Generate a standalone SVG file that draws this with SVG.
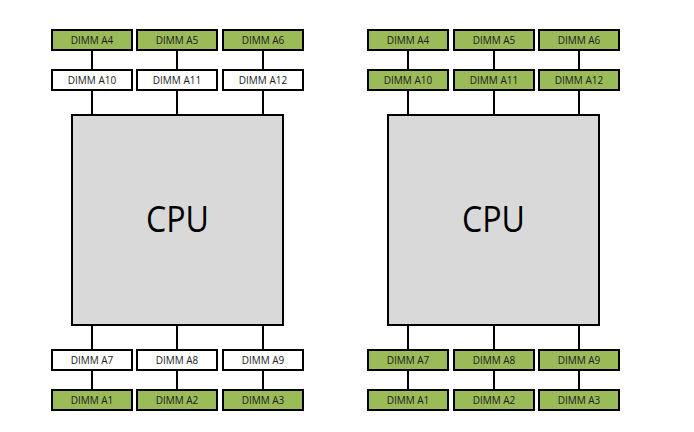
<svg xmlns="http://www.w3.org/2000/svg" width="694" height="432" viewBox="0 0 694 432">
<style>
.g{fill:#9BBB59;stroke:#000;stroke-width:2}
.w{fill:#fff;stroke:#000;stroke-width:2}
.cpu{fill:#D9D9D9;stroke:#000;stroke-width:2}
.t{font-family:"Open Sans","Liberation Sans",sans-serif;font-size:10px;fill:#1a1a1a;text-anchor:middle}
.c{font-family:"Open Sans","Liberation Sans",sans-serif;font-size:36px;fill:#000;text-anchor:middle}
.l{stroke:#000;stroke-width:2;fill:none}
</style>
<rect width="694" height="432" fill="#fff"/>
<g id="connectors">
<path class="l" d="M92 50V70M177 50V70M263 50V70M92 90V115M177 90V115M263 90V115M92 325V350M177 325V350M263 325V350M92 370V390M177 370V390M263 370V390"/>
<path class="l" d="M408 50V70M494 50V70M579 50V70M408 90V115M494 90V115M579 90V115M408 325V350M494 325V350M579 325V350M408 370V390M494 370V390M579 370V390"/>
</g>
<g id="cpu-left"><rect class="cpu" x="72" y="115" width="211" height="210"/><text class="c" x="177.5" y="232" textLength="63" lengthAdjust="spacingAndGlyphs">CPU</text></g>
<g id="cpu-right"><rect class="cpu" x="388" y="115" width="211" height="210"/><text class="c" x="493.5" y="232" textLength="63" lengthAdjust="spacingAndGlyphs">CPU</text></g>

<g id="L-A4"><rect class="g" x="52" y="30" width="80" height="20"/><text class="t" x="92" y="44">DIMM A4</text></g>
<g id="L-A5"><rect class="g" x="137" y="30" width="80" height="20"/><text class="t" x="177" y="44">DIMM A5</text></g>
<g id="L-A6"><rect class="g" x="223" y="30" width="80" height="20"/><text class="t" x="263" y="44">DIMM A6</text></g>
<g id="L-A10"><rect class="w" x="52" y="70" width="80" height="20"/><text class="t" x="92" y="84">DIMM A10</text></g>
<g id="L-A11"><rect class="w" x="137" y="70" width="80" height="20"/><text class="t" x="177" y="84">DIMM A11</text></g>
<g id="L-A12"><rect class="w" x="223" y="70" width="80" height="20"/><text class="t" x="263" y="84">DIMM A12</text></g>
<g id="L-A7"><rect class="w" x="52" y="350" width="80" height="20"/><text class="t" x="92" y="364">DIMM A7</text></g>
<g id="L-A8"><rect class="w" x="137" y="350" width="80" height="20"/><text class="t" x="177" y="364">DIMM A8</text></g>
<g id="L-A9"><rect class="w" x="223" y="350" width="80" height="20"/><text class="t" x="263" y="364">DIMM A9</text></g>
<g id="L-A1"><rect class="g" x="52" y="390" width="80" height="20"/><text class="t" x="92" y="404">DIMM A1</text></g>
<g id="L-A2"><rect class="g" x="137" y="390" width="80" height="20"/><text class="t" x="177" y="404">DIMM A2</text></g>
<g id="L-A3"><rect class="g" x="223" y="390" width="80" height="20"/><text class="t" x="263" y="404">DIMM A3</text></g>

<g id="R-A4"><rect class="g" x="368" y="30" width="80" height="20"/><text class="t" x="408" y="44">DIMM A4</text></g>
<g id="R-A5"><rect class="g" x="454" y="30" width="80" height="20"/><text class="t" x="494" y="44">DIMM A5</text></g>
<g id="R-A6"><rect class="g" x="539" y="30" width="80" height="20"/><text class="t" x="579" y="44">DIMM A6</text></g>
<g id="R-A10"><rect class="g" x="368" y="70" width="80" height="20"/><text class="t" x="408" y="84">DIMM A10</text></g>
<g id="R-A11"><rect class="g" x="454" y="70" width="80" height="20"/><text class="t" x="494" y="84">DIMM A11</text></g>
<g id="R-A12"><rect class="g" x="539" y="70" width="80" height="20"/><text class="t" x="579" y="84">DIMM A12</text></g>
<g id="R-A7"><rect class="g" x="368" y="350" width="80" height="20"/><text class="t" x="408" y="364">DIMM A7</text></g>
<g id="R-A8"><rect class="g" x="454" y="350" width="80" height="20"/><text class="t" x="494" y="364">DIMM A8</text></g>
<g id="R-A9"><rect class="g" x="539" y="350" width="80" height="20"/><text class="t" x="579" y="364">DIMM A9</text></g>
<g id="R-A1"><rect class="g" x="368" y="390" width="80" height="20"/><text class="t" x="408" y="404">DIMM A1</text></g>
<g id="R-A2"><rect class="g" x="454" y="390" width="80" height="20"/><text class="t" x="494" y="404">DIMM A2</text></g>
<g id="R-A3"><rect class="g" x="539" y="390" width="80" height="20"/><text class="t" x="579" y="404">DIMM A3</text></g>
</svg>
